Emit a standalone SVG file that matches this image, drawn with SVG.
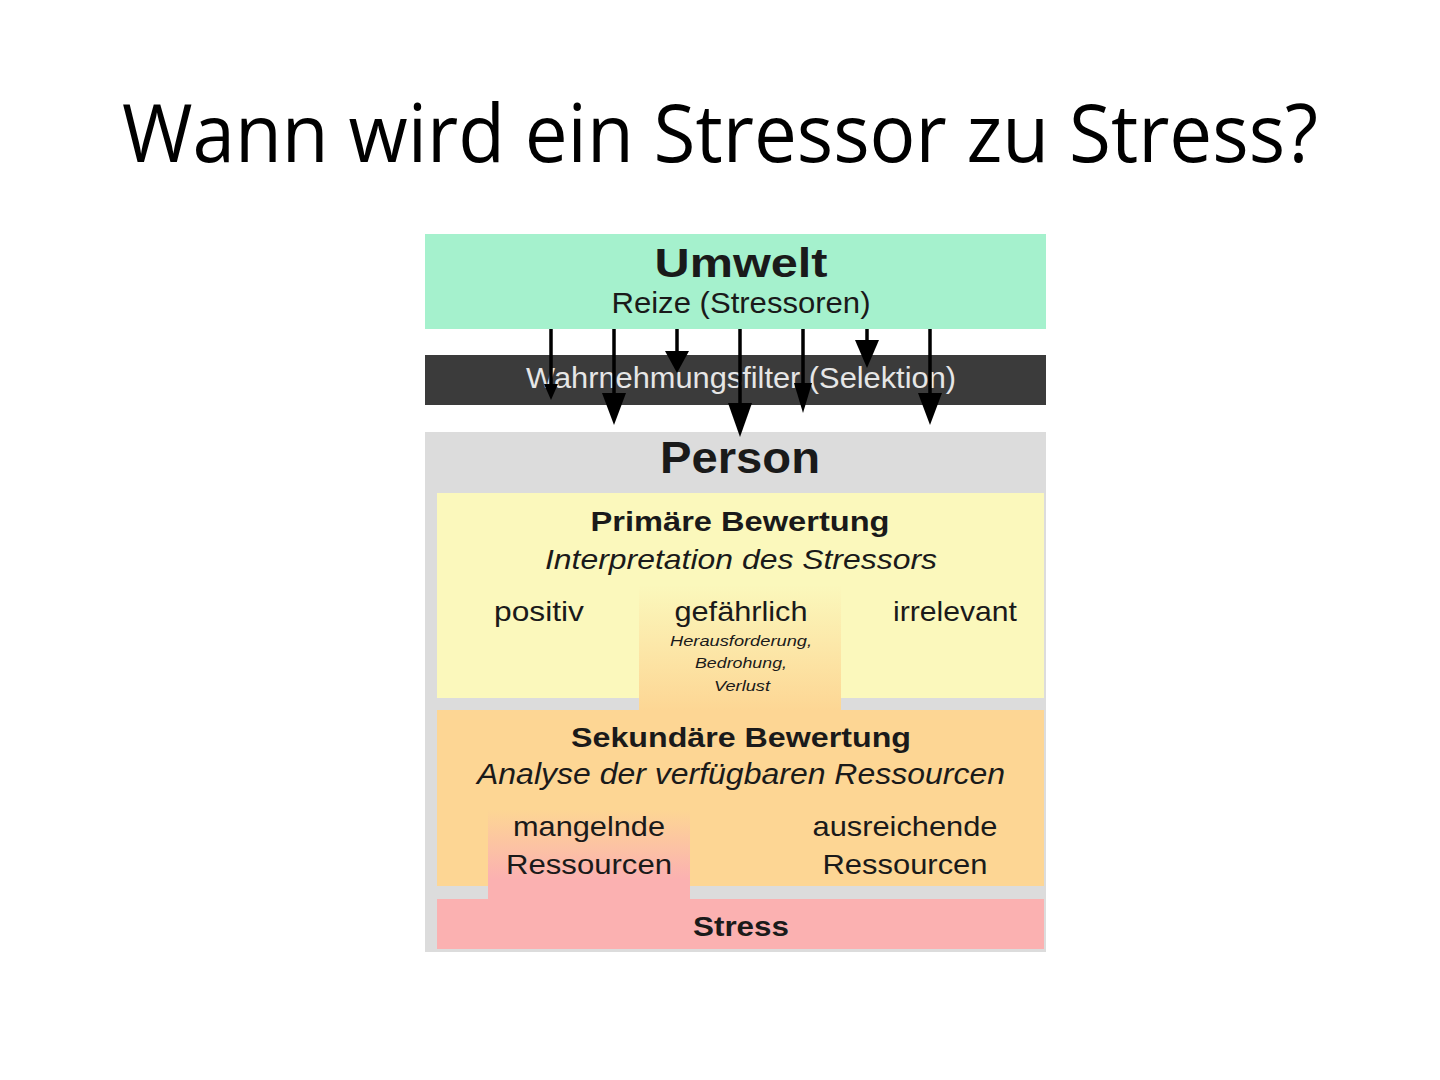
<svg xmlns="http://www.w3.org/2000/svg" width="1440" height="1080" viewBox="0 0 1440 1080">
  <defs>
    <style>
      .t { font-family: "Liberation Sans", Arial, sans-serif; fill: #1a1a1a; text-anchor: middle; }
      .b { font-weight: bold; }
      .i { font-style: italic; }
      .arrow line { stroke: #000; stroke-width: 3.5; }
      .arrow polygon { fill: #000; }
    </style>
    <linearGradient id="gYO" x1="0" y1="0" x2="0" y2="1">
      <stop offset="0" stop-color="#fbf8bc"/>
      <stop offset="1" stop-color="#fdd694"/>
    </linearGradient>
    <linearGradient id="gOP" x1="0" y1="0" x2="0" y2="1">
      <stop offset="0" stop-color="#fdd694"/>
      <stop offset="0.75" stop-color="#fbb1b1"/>
      <stop offset="1" stop-color="#fbb1b1"/>
    </linearGradient>
  </defs>

  <rect width="1440" height="1080" fill="#ffffff"/>

  <g id="title">
    <text x="720" y="162" font-family="'Open Sans', 'Liberation Sans', sans-serif" font-size="80" text-anchor="middle" fill="#000" textLength="1196" lengthAdjust="spacingAndGlyphs">Wann wird ein Stressor zu Stress?</text>
  </g>

  <g id="umwelt">
    <rect x="425" y="234" width="621" height="95" fill="#a5f1cd"/>
    <text class="t b" x="741" y="277" font-size="41" fill="#0c1a12" textLength="173" lengthAdjust="spacingAndGlyphs">Umwelt</text>
    <text class="t" x="741" y="313" font-size="30" fill="#123322" textLength="259" lengthAdjust="spacingAndGlyphs">Reize (Stressoren)</text>
  </g>

  <g id="filter">
    <rect x="425" y="355" width="621" height="50" fill="#3b3b3b"/>
    <text class="t" x="741" y="388" font-size="29" style="fill:#e6e6e6" textLength="430" lengthAdjust="spacingAndGlyphs">Wahrnehmungsfilter (Selektion)</text>
  </g>

  <g id="person">
    <rect x="425" y="432" width="621" height="520" fill="#dcdcdc"/>
    <text class="t b" x="740" y="473" font-size="44" textLength="160" lengthAdjust="spacingAndGlyphs">Person</text>
  </g>

  <g id="primaere-bewertung">
    <rect x="437" y="493" width="607" height="205" fill="#fbf8bc"/>
    <rect x="639" y="585" width="202" height="126" fill="url(#gYO)"/>
    <text class="t b" x="740" y="531" font-size="27" textLength="299" lengthAdjust="spacingAndGlyphs">Primäre Bewertung</text>
    <text class="t i" x="741" y="569" font-size="28" textLength="392" lengthAdjust="spacingAndGlyphs">Interpretation des Stressors</text>
    <text class="t" x="539" y="621" font-size="28" textLength="90" lengthAdjust="spacingAndGlyphs">positiv</text>
    <text class="t" x="741" y="621" font-size="28" textLength="133" lengthAdjust="spacingAndGlyphs">gefährlich</text>
    <text class="t" x="955" y="621" font-size="28" textLength="124" lengthAdjust="spacingAndGlyphs">irrelevant</text>
    <text class="t i" x="741" y="646" font-size="15" textLength="142" lengthAdjust="spacingAndGlyphs">Herausforderung,</text>
    <text class="t i" x="741" y="668" font-size="15" textLength="92" lengthAdjust="spacingAndGlyphs">Bedrohung,</text>
    <text class="t i" x="742" y="691" font-size="15" textLength="56" lengthAdjust="spacingAndGlyphs">Verlust</text>
  </g>

  <g id="sekundaere-bewertung">
    <rect x="437" y="710" width="607" height="176" fill="#fdd694"/>
    <rect x="488" y="810" width="202" height="92" fill="url(#gOP)"/>
    <text class="t b" x="741" y="747" font-size="27" textLength="340" lengthAdjust="spacingAndGlyphs">Sekundäre Bewertung</text>
    <text class="t i" x="741" y="784" font-size="29" textLength="528" lengthAdjust="spacingAndGlyphs">Analyse der verfügbaren Ressourcen</text>
    <text class="t" x="589" y="836" font-size="28" textLength="152" lengthAdjust="spacingAndGlyphs">mangelnde</text>
    <text class="t" x="589" y="874" font-size="28" textLength="166" lengthAdjust="spacingAndGlyphs">Ressourcen</text>
    <text class="t" x="905" y="836" font-size="28" textLength="185" lengthAdjust="spacingAndGlyphs">ausreichende</text>
    <text class="t" x="905" y="874" font-size="28" textLength="165" lengthAdjust="spacingAndGlyphs">Ressourcen</text>
  </g>

  <g id="stress">
    <rect x="437" y="899" width="607" height="50" fill="#fbb1b1"/>
    <rect x="488" y="895" width="202" height="6" fill="#fbb1b1"/>
    <text class="t b" x="741" y="936" font-size="27" textLength="96" lengthAdjust="spacingAndGlyphs">Stress</text>
  </g>

  <g id="connectors" class="arrow">
    <line x1="551" y1="329" x2="551" y2="388"/>
    <polygon points="544,384 558,384 551,400"/>
    <line x1="614" y1="329" x2="614" y2="396"/>
    <polygon points="602,393 626,393 614,425"/>
    <line x1="677" y1="329" x2="677" y2="354"/>
    <polygon points="665,351 689,351 677,373"/>
    <line x1="740" y1="329" x2="740" y2="406"/>
    <polygon points="728,403 752,403 740,437"/>
    <line x1="803" y1="329" x2="803" y2="386"/>
    <polygon points="794,383 812,383 803,413"/>
    <line x1="867" y1="329" x2="867" y2="343"/>
    <polygon points="855,340 879,340 867,368"/>
    <line x1="930" y1="329" x2="930" y2="396"/>
    <polygon points="918,393 942,393 930,425"/>
  </g>
</svg>
